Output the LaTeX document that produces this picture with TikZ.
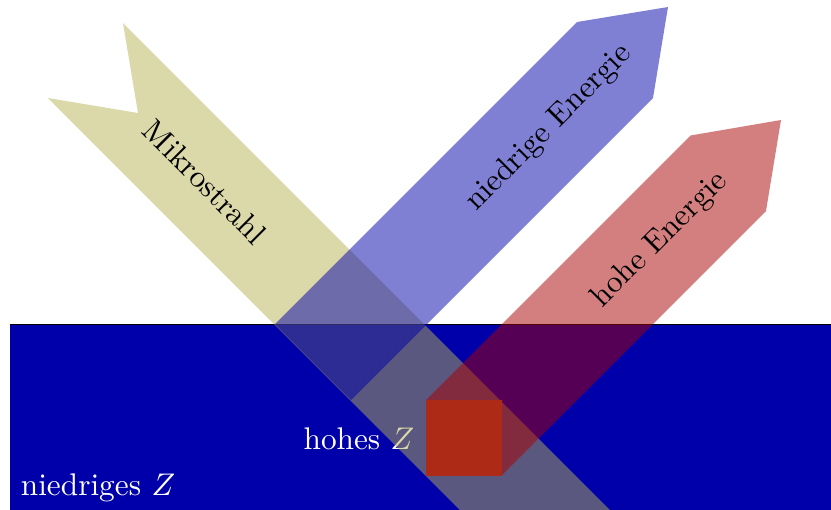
\documentclass[tikz,border=0pt]{standalone}
\usetikzlibrary{calc}
\definecolor{bgblue}{RGB}{0,0,170}
\definecolor{bandyellow}{RGB}{183,177,85}
\definecolor{bandblue}{RGB}{0,0,170}
\definecolor{bandred}{RGB}{170,0,0}
\definecolor{sqred}{RGB}{173,42,22}
\tikzset{
  band/.style={draw=none, fill opacity=0.5},
  bandlabel/.style={inner sep=0pt, text=black},
  zlabel/.style={inner sep=0pt, text=white},
}
\begin{document}
\begin{tikzpicture}[x=0.3195pt, y=-0.3195pt]
\useasboundingbox (0,0) rectangle (831,510);
\clip (0,0) rectangle (831,510);
% high-Z material block
\fill[bgblue] (10,324) rectangle (900,600);
\draw[black, line width=0.3pt] (10,324) -- (900,324);
% labels under the beams
\node[zlabel] (lowz) at (98,488) {niedriges $Z$};
\node[zlabel] (highz) at (359,439) {hohes $Z$};
% incoming micro beam
\fill[band, bandyellow] (123,23) -- (138,113) -- (48,98) -- (648,698) -- (723,623) -- cycle;
% low energy outgoing beam
\fill[band, bandblue] (275,324) -- (577,22) -- (668,7) -- (653,98) -- (351,400) -- cycle;
% high energy outgoing beam
\fill[band, bandred] (426,400) -- (690.5,135.5) -- (781,120) -- (766,211) -- (502,475) -- cycle;
% high-Z inclusion
\fill[sqred] (426,400) rectangle (502,476);
% beam labels
\node[bandlabel, rotate=-45] (micro) at (205,182) {Mikrostrahl};
\node[bandlabel, rotate=45] (lowe) at (549,128) {niedrige Energie};
\node[bandlabel, rotate=45] (highe) at (660,240) {hohe Energie};
\end{tikzpicture}
\end{document}
